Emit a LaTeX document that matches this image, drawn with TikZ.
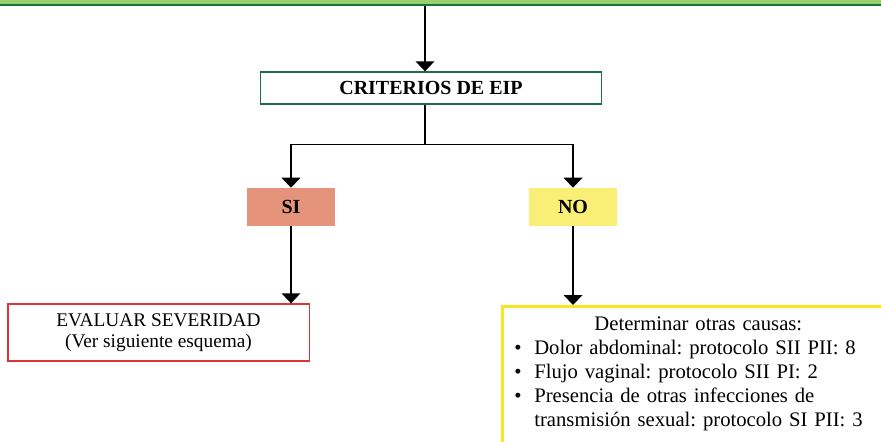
\documentclass[tikz,border=0pt]{standalone}
\usepackage{fontspec}
\setmainfont{Liberation Serif}
\usepackage{xcolor}
\usetikzlibrary{arrows.meta}
\usetikzlibrary{calc}

\definecolor{verdeclaro}{RGB}{155,208,110}
\definecolor{verdeoscuro}{RGB}{30,112,66}
\definecolor{salmon}{RGB}{229,147,122}
\definecolor{amarillo}{RGB}{249,238,118}
\definecolor{rojo}{RGB}{222,50,56}
\definecolor{amarilloborde}{RGB}{247,232,30}

\tikzset{
	caja/.style={rectangle, inner sep=0pt, font=\fontsize{15}{17}\selectfont},
	flecha/.style={line width=1.1pt, -{Triangle[width=14pt,length=7.5pt]}},
	linea/.style={line width=1.1pt}
}
\newcommand{\vineta}{\makebox[15pt][l]{\textbullet}}
\frenchspacing

\begin{document}
\begin{tikzpicture}[x=0.75pt, y=-0.75pt]
	\useasboundingbox (0,0) rectangle (881,442);
	\clip (0,0) rectangle (881,442);

		\node(inicio)	[caja, fill=verdeclaro, draw=verdeoscuro, line width=1.4pt, minimum width=705pt, minimum height=38pt] at (425,-20) {};
		\node(criterios)	[caja, draw=verdeoscuro, line width=1pt, minimum width=256pt, minimum height=24pt, font=\fontsize{15}{17}\selectfont\bfseries] at (431,88) {CRITERIOS DE EIP};
		\node(si)		[caja, fill=salmon, minimum width=66pt, minimum height=28.5pt, font=\fontsize{15}{17}\selectfont\bfseries] at (291,207) {SI};
		\node(no)		[caja, fill=amarillo, minimum width=66pt, minimum height=28.5pt, font=\fontsize{15}{17}\selectfont\bfseries] at (573,207) {NO};
		\node(evaluar)	[caja, draw=rojo, line width=1pt, minimum width=226pt, minimum height=42.75pt, align=center, font=\fontsize{14.5}{15.5}\selectfont] at (158.5,332.5) {EVALUAR SEVERIDAD\\(Ver siguiente esquema)};
		\node(causas)	[caja, draw=amarilloborde, line width=2pt, anchor=north west, inner xsep=9pt, inner ysep=8pt, text width=276pt, align=left, font=\fontsize{15.5}{18}\selectfont] at (501,305)
			{\makebox[276pt]{Determinar otras causas:}\\
			\vineta Dolor abdominal: protocolo SII PII: 8\\
			\vineta Flujo vaginal: protocolo SII PI: 2\\
			\vineta Presencia de otras infecciones de\\
			\hspace*{15pt}transmisión sexual: protocolo SI PII: 3\\
			\strut};

		\draw[flecha](inicio.south)	-- (inicio.south |- criterios.north);
		\draw[linea](inicio.south |- criterios.south)	-- ++(0,40) coordinate (rama);
		\draw[flecha](rama)	-| (si);
		\draw[flecha](rama)	-| (no);
		\draw[flecha](si)	-- (si |- evaluar.north);
		\draw[flecha](no)	-- (no |- causas.north);
	\end{tikzpicture}
\end{document}
